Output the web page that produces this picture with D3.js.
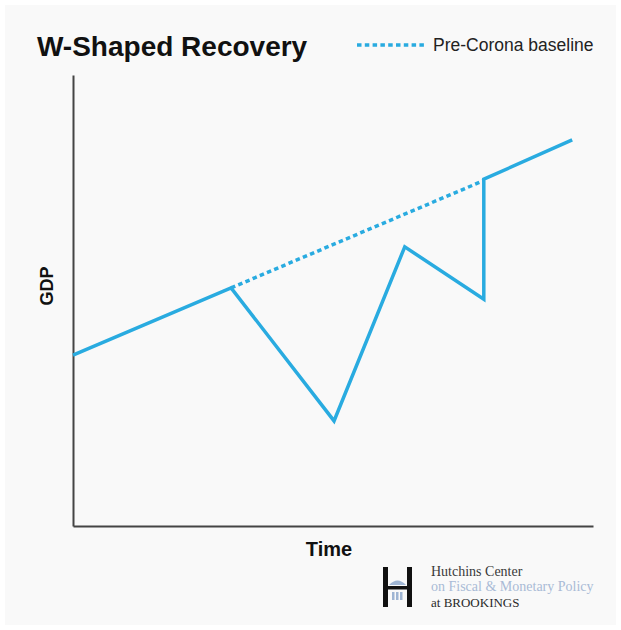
<!DOCTYPE html>
<html>
<head>
<meta charset="utf-8">
<script src="https://cdn.jsdelivr.net/npm/d3@7"></script>
<style>
  html, body { margin: 0; padding: 0; background: #ffffff; }
  svg { display: block; }
</style>
</head>
<body>
<svg id="chart" width="621" height="630"></svg>
<script>
// Time index (0–100) and GDP index (0–100) for the W-shaped path
const timeIdx = [0, 30.4, 50.2, 63.8, 79.0, 79.0, 96.0];
const gdpIdx  = [37.9, 52.8, 23.3, 61.9, 50.3, 76.9, 85.6];

// Pre-Corona trend baseline, drawn dotted between the drop and the rejoin
const baseTime = [30.4, 79.0];
const baseGdp  = [52.8, 76.6];

const titleText  = "W-Shaped Recovery";
const legendText = "Pre-Corona baseline";
const xLabel = "Time";
const yLabel = "GDP";
const logoLines = ["Hutchins Center", "on Fiscal & Monetary Policy", "at BROOKINGS"];

const blue = "#29abe0";
const svg = d3.select("#chart");

// panel background
svg.append("rect")
  .attr("x", 5).attr("y", 5).attr("width", 611).attr("height", 620)
  .attr("fill", "#f9f9f9");

const x = d3.scaleLinear().domain([0, 100]).range([73, 593]);
const y = d3.scaleLinear().domain([0, 100]).range([526, 75]);

// axes: plain lines without ticks
const axisG = svg.append("g");
axisG.append("g")
  .attr("transform", `translate(0,${y(0)})`)
  .call(d3.axisBottom(x).tickValues([]).tickSizeOuter(0))
  .select(".domain").attr("stroke", "#444").attr("stroke-width", 2);
axisG.append("g")
  .attr("transform", `translate(${x(0)},0)`)
  .call(d3.axisLeft(y).tickValues([]).tickSizeOuter(0))
  .select(".domain").attr("stroke", "#444").attr("stroke-width", 2);

const line = d3.line().x(d => x(d[0])).y(d => y(d[1]));

// dotted baseline
svg.append("path")
  .datum(d3.zip(baseTime, baseGdp))
  .attr("d", line)
  .attr("fill", "none")
  .attr("stroke", blue)
  .attr("stroke-width", 3.5)
  .attr("stroke-dasharray", "4.5,3.3");

// GDP path
svg.append("path")
  .datum(d3.zip(timeIdx, gdpIdx))
  .attr("d", line)
  .attr("fill", "none")
  .attr("stroke", blue)
  .attr("stroke-width", 3.5)
  .attr("stroke-linejoin", "miter");

// title
svg.append("text")
  .attr("x", 37).attr("y", 56)
  .attr("font-family", "Liberation Sans, Arial, sans-serif")
  .attr("font-weight", "bold")
  .attr("font-size", 28)
  .attr("fill", "#111")
  .text(titleText);

// legend
svg.append("line")
  .attr("x1", 357).attr("x2", 426).attr("y1", 45).attr("y2", 45)
  .attr("stroke", blue).attr("stroke-width", 3.5)
  .attr("stroke-dasharray", "4.5,3.3");
svg.append("text")
  .attr("x", 433).attr("y", 51)
  .attr("font-family", "Liberation Sans, Arial, sans-serif")
  .attr("font-size", 17.5)
  .attr("fill", "#222")
  .text(legendText);

// axis titles
svg.append("text")
  .attr("x", 329).attr("y", 556)
  .attr("text-anchor", "middle")
  .attr("font-family", "Liberation Sans, Arial, sans-serif")
  .attr("font-weight", "bold")
  .attr("font-size", 20)
  .attr("fill", "#111")
  .text(xLabel);
svg.append("text")
  .attr("transform", "translate(53,286) rotate(-90)")
  .attr("text-anchor", "middle")
  .attr("font-family", "Liberation Sans, Arial, sans-serif")
  .attr("font-weight", "bold")
  .attr("font-size", 18)
  .attr("fill", "#111")
  .text(yLabel);

// Hutchins Center logo mark
const logo = svg.append("g");
logo.append("rect").attr("x", 383).attr("y", 567).attr("width", 5).attr("height", 40).attr("fill", "#111");
logo.append("rect").attr("x", 407).attr("y", 567).attr("width", 5).attr("height", 40).attr("fill", "#111");
logo.append("rect").attr("x", 388).attr("y", 586).attr("width", 19).attr("height", 3.5).attr("fill", "#111");
logo.append("path")
  .attr("d", "M389,585 Q397.5,576 406,585 Z")
  .attr("fill", "#9fb5d3");
[392, 396, 400].forEach(cx => {
  logo.append("rect").attr("x", cx).attr("y", 592).attr("width", 2.5).attr("height", 8).attr("fill", "#9fb5d3");
});

const logoText = svg.append("g")
  .attr("font-family", "Liberation Serif, Times New Roman, serif");
logoText.append("text").attr("x", 431).attr("y", 576).attr("font-size", 14).attr("fill", "#3a3a3a").text(logoLines[0]);
logoText.append("text").attr("x", 431).attr("y", 591).attr("font-size", 14).attr("fill", "#a9bbd6").text(logoLines[1]);
logoText.append("text").attr("x", 431).attr("y", 607).attr("font-size", 13).attr("fill", "#2a2a2a").text(logoLines[2]);
</script>
</body>
</html>
